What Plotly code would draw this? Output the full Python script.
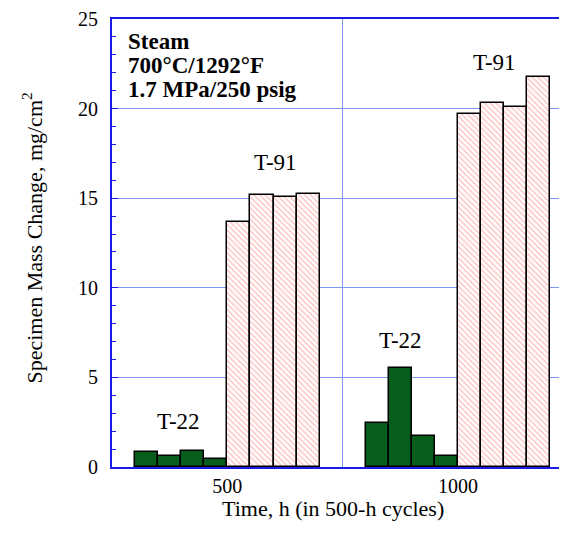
import plotly.graph_objects as go

# ---- data ----
cycle_times = [500, 1000]               # h
specimen_index = [0, 1, 2, 3]           # four specimens per alloy
t22_values = [[0.83, 0.61, 0.92, 0.43],  # 500 h
              [2.43, 5.55, 1.72, 0.61]]  # 1000 h
t91_values = [[13.7, 15.19, 15.04, 15.24],
              [19.68, 20.33, 20.11, 21.77]]
bar_w = 50

def positions(t, start):
    return [t + start + bar_w * (i + 0.5) for i in specimen_index]

x22, y22, x91, y91 = [], [], [], []
for t, v22, v91 in zip(cycle_times, t22_values, t91_values):
    x22 += positions(t, -4 * bar_w)
    y22 += v22
    x91 += positions(t, 0)
    y91 += v91

serif = "Liberation Serif, Times New Roman, serif"
blue = "#1a1ae6"
grid = "#7b96f0"

fig = go.Figure()
fig.add_trace(go.Bar(x=x22, y=y22, width=bar_w,
                     marker=dict(color="#075e1c", line=dict(color="black", width=1.5)),
                     name="T-22"))
fig.add_trace(go.Bar(x=x91, y=y91, width=bar_w,
                     marker=dict(color="white", line=dict(color="black", width=1.5),
                                 pattern=dict(shape="\\", fgcolor="#ff8080", bgcolor="white",
                                              size=4, solidity=0.35)),
                     name="T-91"))

# page body has an 8px margin: plot area spans x 112..567, y 16..467 in the window
fig.update_layout(
    width=559, height=525,
    margin=dict(l=104, r=0, t=8, b=66),
    paper_bgcolor="white", plot_bgcolor="white",
    showlegend=False, bargap=0,
    font=dict(family=serif, color="black", size=20),
)
fig.update_xaxes(range=[250, 1236], tickvals=cycle_times, ticktext=[str(t) for t in cycle_times],
                 showgrid=False, zeroline=False, showline=True, linecolor=blue, linewidth=2,
                 mirror=True, ticks="", tickfont=dict(size=20, family=serif),
                 minor=dict(tick0=750, dtick=500, showgrid=True, gridcolor=grid, gridwidth=1, ticks=""))
fig.update_yaxes(range=[0, 25], dtick=5, showgrid=True, gridcolor=grid, gridwidth=1,
                 zeroline=False, showline=True, linecolor=blue, linewidth=2, mirror=False,
                 ticks="inside", ticklen=6, tickcolor=blue, tickwidth=1,
                 ticklabelstandoff=8, ticklabeloverflow="allow",
                 tickfont=dict(size=20, family=serif),
                 minor=dict(dtick=1, ticks="inside", ticklen=4, tickcolor=blue, showgrid=False))

annos = [
    dict(x=395, y=2.55, text="T-22"),
    dict(x=605, y=17.0, text="T-91"),
    dict(x=875, y=7.07, text="T-22"),
    dict(x=1079, y=22.57, text="T-91"),
]
for a in annos:
    fig.add_annotation(x=a["x"], y=a["y"], text=a["text"], showarrow=False,
                       font=dict(size=23, family=serif, color="black"))

cond_lines = ["Steam", "700°C/1292°F", "1.7 MPa/250 psig"]
for i, line in enumerate(cond_lines):
    fig.add_annotation(xref="paper", yref="paper", x=0, y=1, xshift=14, yshift=-22 - 24 * i,
                       xanchor="left", yanchor="middle", align="left", showarrow=False,
                       text="<b>" + line + "</b>",
                       font=dict(size=23, family=serif, color="black"))

fig.add_annotation(xref="paper", yref="paper", x=0.486, y=0, yshift=-41,
                   xanchor="center", yanchor="middle", showarrow=False,
                   text="Time, h (in 500-h cycles)", font=dict(size=22, family=serif))
fig.add_annotation(xref="paper", yref="paper", x=0, y=0.51, xshift=-80,
                   xanchor="center", yanchor="middle", textangle=-90, showarrow=False,
                   text="Specimen Mass Change, mg/cm<sup>2</sup>", font=dict(size=22, family=serif))

fig.write_html("out.html")
